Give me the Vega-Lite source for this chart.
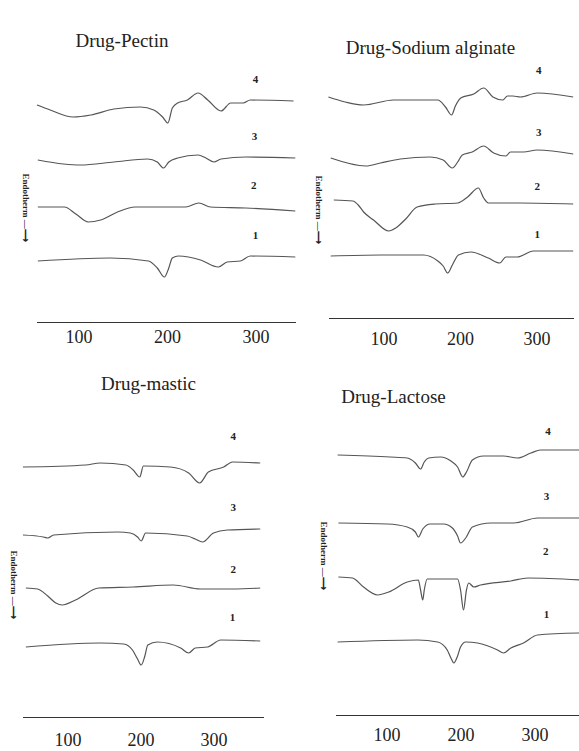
{
"$schema": "https://vega.github.io/schema/vega-lite/v6.json",
"background": "white",
"padding": {"left": 8.5, "top": 32, "right": 0, "bottom": 2},
"columns": 2,
"spacing": {"column": 33, "row": 93},
"bounds": "flush",
"datasets": {
"dsc": [
{"panel":"TL","curve":4,"temp":53,"flow":21.7},{"panel":"TL","curve":4,"temp":68,"flow":21.2},{"panel":"TL","curve":4,"temp":94,"flow":20.5},{"panel":"TL","curve":4,"temp":114,"flow":20.7},{"panel":"TL","curve":4,"temp":140,"flow":21.3},{"panel":"TL","curve":4,"temp":170,"flow":21.5},{"panel":"TL","curve":4,"temp":185,"flow":21.2},{"panel":"TL","curve":4,"temp":195,"flow":20.5},{"panel":"TL","curve":4,"temp":201,"flow":19.9},{"panel":"TL","curve":4,"temp":206,"flow":21.4},{"panel":"TL","curve":4,"temp":212,"flow":21.9},{"panel":"TL","curve":4,"temp":223,"flow":22.2},{"panel":"TL","curve":4,"temp":235,"flow":22.9},{"panel":"TL","curve":4,"temp":246,"flow":22.2},{"panel":"TL","curve":4,"temp":261,"flow":21.1},{"panel":"TL","curve":4,"temp":272,"flow":21.9},{"panel":"TL","curve":4,"temp":286,"flow":21.9},{"panel":"TL","curve":4,"temp":294,"flow":22.2},{"panel":"TL","curve":4,"temp":343,"flow":22.1},
{"panel":"TL","curve":3,"temp":54,"flow":16.2},{"panel":"TL","curve":3,"temp":83,"flow":15.8},{"panel":"TL","curve":3,"temp":102,"flow":15.7},{"panel":"TL","curve":3,"temp":140,"flow":16.0},{"panel":"TL","curve":3,"temp":178,"flow":16.3},{"panel":"TL","curve":3,"temp":189,"flow":16.0},{"panel":"TL","curve":3,"temp":196,"flow":15.4},{"panel":"TL","curve":3,"temp":202,"flow":16.0},{"panel":"TL","curve":3,"temp":212,"flow":16.4},{"panel":"TL","curve":3,"temp":235,"flow":16.7},{"panel":"TL","curve":3,"temp":244,"flow":16.4},{"panel":"TL","curve":3,"temp":253,"flow":16.0},{"panel":"TL","curve":3,"temp":261,"flow":16.3},{"panel":"TL","curve":3,"temp":289,"flow":16.5},{"panel":"TL","curve":3,"temp":345,"flow":16.4},
{"panel":"TL","curve":2,"temp":54,"flow":11.5},{"panel":"TL","curve":2,"temp":84,"flow":11.5},{"panel":"TL","curve":2,"temp":97,"flow":10.8},{"panel":"TL","curve":2,"temp":111,"flow":10.0},{"panel":"TL","curve":2,"temp":125,"flow":10.2},{"panel":"TL","curve":2,"temp":144,"flow":11.0},{"panel":"TL","curve":2,"temp":164,"flow":11.5},{"panel":"TL","curve":2,"temp":221,"flow":11.5},{"panel":"TL","curve":2,"temp":236,"flow":11.9},{"panel":"TL","curve":2,"temp":249,"flow":11.5},{"panel":"TL","curve":2,"temp":289,"flow":11.4},{"panel":"TL","curve":2,"temp":345,"flow":11.1},
{"panel":"TL","curve":1,"temp":54,"flow":6.1},{"panel":"TL","curve":1,"temp":136,"flow":6.4},{"panel":"TL","curve":1,"temp":179,"flow":6.1},{"panel":"TL","curve":1,"temp":189,"flow":5.4},{"panel":"TL","curve":1,"temp":197,"flow":4.5},{"panel":"TL","curve":1,"temp":202,"flow":5.4},{"panel":"TL","curve":1,"temp":206,"flow":6.4},{"panel":"TL","curve":1,"temp":213,"flow":6.6},{"panel":"TL","curve":1,"temp":238,"flow":6.2},{"panel":"TL","curve":1,"temp":258,"flow":5.5},{"panel":"TL","curve":1,"temp":268,"flow":6.0},{"panel":"TL","curve":1,"temp":283,"flow":6.1},{"panel":"TL","curve":1,"temp":294,"flow":6.6},{"panel":"TL","curve":1,"temp":345,"flow":6.5},
{"panel":"TR","curve":4,"temp":28,"flow":22.1},{"panel":"TR","curve":4,"temp":50,"flow":21.6},{"panel":"TR","curve":4,"temp":74,"flow":21.3},{"panel":"TR","curve":4,"temp":113,"flow":21.8},{"panel":"TR","curve":4,"temp":171,"flow":21.8},{"panel":"TR","curve":4,"temp":181,"flow":21.1},{"panel":"TR","curve":4,"temp":189,"flow":20.3},{"panel":"TR","curve":4,"temp":194,"flow":21.2},{"panel":"TR","curve":4,"temp":201,"flow":22.0},{"panel":"TR","curve":4,"temp":218,"flow":22.4},{"panel":"TR","curve":4,"temp":231,"flow":23.0},{"panel":"TR","curve":4,"temp":243,"flow":22.1},{"panel":"TR","curve":4,"temp":256,"flow":21.8},{"panel":"TR","curve":4,"temp":262,"flow":22.2},{"panel":"TR","curve":4,"temp":269,"flow":22.2},{"panel":"TR","curve":4,"temp":279,"flow":22.1},{"panel":"TR","curve":4,"temp":301,"flow":22.5},{"panel":"TR","curve":4,"temp":348,"flow":22.1},
{"panel":"TR","curve":3,"temp":31,"flow":16.0},{"panel":"TR","curve":3,"temp":77,"flow":15.2},{"panel":"TR","curve":3,"temp":96,"flow":15.5},{"panel":"TR","curve":3,"temp":122,"flow":15.9},{"panel":"TR","curve":3,"temp":161,"flow":16.1},{"panel":"TR","curve":3,"temp":178,"flow":15.8},{"panel":"TR","curve":3,"temp":190,"flow":15.0},{"panel":"TR","curve":3,"temp":197,"flow":15.6},{"panel":"TR","curve":3,"temp":203,"flow":16.3},{"panel":"TR","curve":3,"temp":216,"flow":16.6},{"panel":"TR","curve":3,"temp":231,"flow":17.2},{"panel":"TR","curve":3,"temp":244,"flow":16.5},{"panel":"TR","curve":3,"temp":260,"flow":16.2},{"panel":"TR","curve":3,"temp":266,"flow":16.6},{"panel":"TR","curve":3,"temp":283,"flow":16.6},{"panel":"TR","curve":3,"temp":301,"flow":16.8},{"panel":"TR","curve":3,"temp":348,"flow":16.4},
{"panel":"TR","curve":2,"temp":35,"flow":11.8},{"panel":"TR","curve":2,"temp":60,"flow":11.7},{"panel":"TR","curve":2,"temp":67,"flow":11.3},{"panel":"TR","curve":2,"temp":74,"flow":10.6},{"panel":"TR","curve":2,"temp":87,"flow":9.8},{"panel":"TR","curve":2,"temp":107,"flow":8.7},{"panel":"TR","curve":2,"temp":116,"flow":9.0},{"panel":"TR","curve":2,"temp":129,"flow":9.9},{"panel":"TR","curve":2,"temp":144,"flow":11.1},{"panel":"TR","curve":2,"temp":168,"flow":11.4},{"panel":"TR","curve":2,"temp":197,"flow":11.5},{"panel":"TR","curve":2,"temp":210,"flow":12.1},{"panel":"TR","curve":2,"temp":224,"flow":13.0},{"panel":"TR","curve":2,"temp":231,"flow":12.0},{"panel":"TR","curve":2,"temp":237,"flow":11.5},{"panel":"TR","curve":2,"temp":279,"flow":11.5},{"panel":"TR","curve":2,"temp":348,"flow":11.4},
{"panel":"TR","curve":1,"temp":31,"flow":6.2},{"panel":"TR","curve":1,"temp":96,"flow":6.3},{"panel":"TR","curve":1,"temp":152,"flow":6.3},{"panel":"TR","curve":1,"temp":171,"flow":5.7},{"panel":"TR","curve":1,"temp":178,"flow":5.2},{"panel":"TR","curve":1,"temp":184,"flow":4.5},{"panel":"TR","curve":1,"temp":190,"flow":5.3},{"panel":"TR","curve":1,"temp":198,"flow":6.3},{"panel":"TR","curve":1,"temp":214,"flow":6.6},{"panel":"TR","curve":1,"temp":237,"flow":6.0},{"panel":"TR","curve":1,"temp":252,"flow":5.5},{"panel":"TR","curve":1,"temp":260,"flow":6.1},{"panel":"TR","curve":1,"temp":275,"flow":6.1},{"panel":"TR","curve":1,"temp":296,"flow":6.7},{"panel":"TR","curve":1,"temp":348,"flow":6.7},
{"panel":"BL","curve":4,"temp":39,"flow":25.0},{"panel":"BL","curve":4,"temp":125,"flow":25.2},{"panel":"BL","curve":4,"temp":145,"flow":25.4},{"panel":"BL","curve":4,"temp":180,"flow":25.2},{"panel":"BL","curve":4,"temp":190,"flow":24.7},{"panel":"BL","curve":4,"temp":199,"flow":24.0},{"panel":"BL","curve":4,"temp":204,"flow":25.1},{"panel":"BL","curve":4,"temp":241,"flow":25.0},{"panel":"BL","curve":4,"temp":266,"flow":24.4},{"panel":"BL","curve":4,"temp":281,"flow":23.4},{"panel":"BL","curve":4,"temp":293,"flow":24.5},{"panel":"BL","curve":4,"temp":314,"flow":25.0},{"panel":"BL","curve":4,"temp":326,"flow":25.5},{"panel":"BL","curve":4,"temp":364,"flow":25.4},
{"panel":"BL","curve":3,"temp":39,"flow":18.2},{"panel":"BL","curve":3,"temp":67,"flow":18.0},{"panel":"BL","curve":3,"temp":73,"flow":17.9},{"panel":"BL","curve":3,"temp":81,"flow":18.2},{"panel":"BL","curve":3,"temp":169,"flow":18.5},{"panel":"BL","curve":3,"temp":186,"flow":18.4},{"panel":"BL","curve":3,"temp":196,"flow":18.0},{"panel":"BL","curve":3,"temp":201,"flow":17.6},{"panel":"BL","curve":3,"temp":207,"flow":18.4},{"panel":"BL","curve":3,"temp":264,"flow":18.1},{"panel":"BL","curve":3,"temp":275,"flow":17.8},{"panel":"BL","curve":3,"temp":285,"flow":17.5},{"panel":"BL","curve":3,"temp":300,"flow":18.4},{"panel":"BL","curve":3,"temp":319,"flow":18.7},{"panel":"BL","curve":3,"temp":364,"flow":18.8},
{"panel":"BL","curve":2,"temp":43,"flow":12.9},{"panel":"BL","curve":2,"temp":59,"flow":12.8},{"panel":"BL","curve":2,"temp":73,"flow":12.1},{"panel":"BL","curve":2,"temp":84,"flow":11.4},{"panel":"BL","curve":2,"temp":93,"flow":11.2},{"panel":"BL","curve":2,"temp":111,"flow":11.7},{"panel":"BL","curve":2,"temp":143,"flow":12.9},{"panel":"BL","curve":2,"temp":190,"flow":13.0},{"panel":"BL","curve":2,"temp":245,"flow":13.2},{"panel":"BL","curve":2,"temp":282,"flow":12.8},{"panel":"BL","curve":2,"temp":327,"flow":12.8},{"panel":"BL","curve":2,"temp":364,"flow":12.9},
{"panel":"BL","curve":1,"temp":43,"flow":7.0},{"panel":"BL","curve":1,"temp":145,"flow":7.4},{"panel":"BL","curve":1,"temp":177,"flow":7.3},{"panel":"BL","curve":1,"temp":189,"flow":6.7},{"panel":"BL","curve":1,"temp":196,"flow":5.8},{"panel":"BL","curve":1,"temp":201,"flow":5.2},{"panel":"BL","curve":1,"temp":206,"flow":6.1},{"panel":"BL","curve":1,"temp":210,"flow":7.2},{"panel":"BL","curve":1,"temp":223,"flow":7.5},{"panel":"BL","curve":1,"temp":255,"flow":6.9},{"panel":"BL","curve":1,"temp":266,"flow":6.4},{"panel":"BL","curve":1,"temp":275,"flow":6.9},{"panel":"BL","curve":1,"temp":292,"flow":7.0},{"panel":"BL","curve":1,"temp":310,"flow":7.7},{"panel":"BL","curve":1,"temp":364,"flow":7.6},
{"panel":"BR","curve":4,"temp":34,"flow":26.0},{"panel":"BR","curve":4,"temp":105,"flow":25.8},{"panel":"BR","curve":4,"temp":128,"flow":25.7},{"panel":"BR","curve":4,"temp":139,"flow":25.2},{"panel":"BR","curve":4,"temp":146,"flow":24.6},{"panel":"BR","curve":4,"temp":151,"flow":25.3},{"panel":"BR","curve":4,"temp":157,"flow":25.7},{"panel":"BR","curve":4,"temp":173,"flow":25.8},{"panel":"BR","curve":4,"temp":187,"flow":25.4},{"panel":"BR","curve":4,"temp":196,"flow":24.8},{"panel":"BR","curve":4,"temp":203,"flow":23.8},{"panel":"BR","curve":4,"temp":208,"flow":24.3},{"panel":"BR","curve":4,"temp":216,"flow":25.5},{"panel":"BR","curve":4,"temp":231,"flow":25.9},{"panel":"BR","curve":4,"temp":258,"flow":25.9},{"panel":"BR","curve":4,"temp":277,"flow":25.7},{"panel":"BR","curve":4,"temp":295,"flow":26.2},{"panel":"BR","curve":4,"temp":308,"flow":26.5},{"panel":"BR","curve":4,"temp":361,"flow":26.5},
{"panel":"BR","curve":3,"temp":35,"flow":19.2},{"panel":"BR","curve":3,"temp":101,"flow":19.1},{"panel":"BR","curve":3,"temp":128,"flow":18.8},{"panel":"BR","curve":3,"temp":139,"flow":18.3},{"panel":"BR","curve":3,"temp":143,"flow":17.8},{"panel":"BR","curve":3,"temp":149,"flow":18.6},{"panel":"BR","curve":3,"temp":159,"flow":19.1},{"panel":"BR","curve":3,"temp":177,"flow":19.1},{"panel":"BR","curve":3,"temp":189,"flow":18.7},{"panel":"BR","curve":3,"temp":196,"flow":17.9},{"panel":"BR","curve":3,"temp":200,"flow":17.2},{"panel":"BR","curve":3,"temp":207,"flow":17.7},{"panel":"BR","curve":3,"temp":216,"flow":18.8},{"panel":"BR","curve":3,"temp":241,"flow":19.2},{"panel":"BR","curve":3,"temp":272,"flow":19.2},{"panel":"BR","curve":3,"temp":304,"flow":19.7},{"panel":"BR","curve":3,"temp":361,"flow":19.7},
{"panel":"BR","curve":2,"temp":35,"flow":13.8},{"panel":"BR","curve":2,"temp":54,"flow":13.7},{"panel":"BR","curve":2,"temp":69,"flow":12.8},{"panel":"BR","curve":2,"temp":88,"flow":12.0},{"panel":"BR","curve":2,"temp":103,"flow":12.3},{"panel":"BR","curve":2,"temp":128,"flow":13.3},{"panel":"BR","curve":2,"temp":143,"flow":13.5},{"panel":"BR","curve":2,"temp":146,"flow":12.5},{"panel":"BR","curve":2,"temp":149,"flow":11.5},{"panel":"BR","curve":2,"temp":151,"flow":12.5},{"panel":"BR","curve":2,"temp":155,"flow":13.6},{"panel":"BR","curve":2,"temp":196,"flow":13.6},{"panel":"BR","curve":2,"temp":200,"flow":12.5},{"panel":"BR","curve":2,"temp":204,"flow":10.5},{"panel":"BR","curve":2,"temp":208,"flow":12.5},{"panel":"BR","curve":2,"temp":211,"flow":13.2},{"panel":"BR","curve":2,"temp":218,"flow":12.8},{"panel":"BR","curve":2,"temp":227,"flow":13.0},{"panel":"BR","curve":2,"temp":268,"flow":13.4},{"panel":"BR","curve":2,"temp":291,"flow":13.7},{"panel":"BR","curve":2,"temp":361,"flow":13.5},
{"panel":"BR","curve":1,"temp":34,"flow":7.3},{"panel":"BR","curve":1,"temp":142,"flow":7.5},{"panel":"BR","curve":1,"temp":169,"flow":7.3},{"panel":"BR","curve":1,"temp":182,"flow":6.5},{"panel":"BR","curve":1,"temp":187,"flow":5.7},{"panel":"BR","curve":1,"temp":191,"flow":5.2},{"panel":"BR","curve":1,"temp":196,"flow":5.9},{"panel":"BR","curve":1,"temp":200,"flow":6.8},{"panel":"BR","curve":1,"temp":207,"flow":7.3},{"panel":"BR","curve":1,"temp":223,"flow":7.2},{"panel":"BR","curve":1,"temp":250,"flow":6.5},{"panel":"BR","curve":1,"temp":258,"flow":6.2},{"panel":"BR","curve":1,"temp":268,"flow":6.7},{"panel":"BR","curve":1,"temp":285,"flow":7.2},{"panel":"BR","curve":1,"temp":304,"flow":8.0},{"panel":"BR","curve":1,"temp":361,"flow":8.2}
],
"labels": [
{"panel":"TL","curve":4,"temp":300,"flow":24.2},{"panel":"TL","curve":3,"temp":299,"flow":18.5},{"panel":"TL","curve":2,"temp":298,"flow":13.6},{"panel":"TL","curve":1,"temp":300,"flow":8.6},
{"panel":"TR","curve":4,"temp":303,"flow":24.7},{"panel":"TR","curve":3,"temp":303,"flow":18.5},{"panel":"TR","curve":2,"temp":301,"flow":13.1},{"panel":"TR","curve":1,"temp":301,"flow":8.3},
{"panel":"BL","curve":4,"temp":327,"flow":28.0},{"panel":"BL","curve":3,"temp":327,"flow":20.9},{"panel":"BL","curve":2,"temp":327,"flow":14.7},{"panel":"BL","curve":1,"temp":326,"flow":9.9},
{"panel":"BR","curve":4,"temp":318,"flow":28.3},{"panel":"BR","curve":3,"temp":316,"flow":21.8},{"panel":"BR","curve":2,"temp":315,"flow":16.3},{"panel":"BR","curve":1,"temp":316,"flow":10.0}
]
},
"concat": [
{
"width": 273, "height": 262,
"title": {"text": "Drug-Pectin", "dx": -37, "offset": 9},
"encoding": {
"x": {"field": "temp", "type": "quantitative", "scale": {"domain": [52.5, 345.2], "range": [14, 273], "nice": false, "zero": false}, "axis": {"title": null, "values": [100, 200, 300], "labelPadding": 6}},
"y": {"field": "flow", "type": "quantitative", "scale": {"domain": [0, 26.2], "nice": false, "zero": false}, "axis": {"title": "Endotherm —⟶", "titleX": 3, "titleY": 147}}
},
"layer": [
{"data": {"name": "dsc"}, "transform": [{"filter": "datum.panel === 'TL'"}], "mark": {"type": "line", "interpolate": "monotone", "color": "#555", "strokeWidth": 1.2}, "encoding": {"detail": {"field": "curve"}}},
{"data": {"name": "labels"}, "transform": [{"filter": "datum.panel === 'TL'"}], "mark": {"type": "text", "font": "Liberation Serif", "fontWeight": "bold", "fontSize": 11, "color": "#222"}, "encoding": {"text": {"field": "curve"}}}
]
},
{
"width": 251, "height": 258,
"title": {"text": "Drug-Sodium alginate", "dx": -23.5, "offset": 2.5},
"encoding": {
"x": {"field": "temp", "type": "quantitative", "scale": {"domain": [28.1, 348.4], "range": [0, 245], "nice": false, "zero": false}, "axis": {"title": null, "values": [100, 200, 300], "labelPadding": 12}},
"y": {"field": "flow", "type": "quantitative", "scale": {"domain": [0, 25.8], "nice": false, "zero": false}, "axis": {"title": "Endotherm —⟶", "titleX": -10, "titleY": 149}}
},
"layer": [
{"data": {"name": "dsc"}, "transform": [{"filter": "datum.panel === 'TR'"}], "mark": {"type": "line", "interpolate": "monotone", "color": "#555", "strokeWidth": 1.2}, "encoding": {"detail": {"field": "curve"}}},
{"data": {"name": "labels"}, "transform": [{"filter": "datum.panel === 'TR'"}], "mark": {"type": "text", "font": "Liberation Serif", "fontWeight": "bold", "fontSize": 11, "color": "#222"}, "encoding": {"text": {"field": "curve"}}}
]
},
{
"width": 273, "height": 302,
"title": {"text": "Drug-mastic", "dx": -10.5, "offset": 21},
"encoding": {
"x": {"field": "temp", "type": "quantitative", "scale": {"domain": [38.4, 368.5], "range": [0, 241], "nice": false, "zero": false}, "axis": {"title": null, "values": [100, 200, 300], "labelPadding": 14}},
"y": {"field": "flow", "type": "quantitative", "scale": {"domain": [0, 30.2], "nice": false, "zero": false}, "axis": {"title": "Endotherm —⟶", "titleX": -9, "titleY": 169}}
},
"layer": [
{"data": {"name": "dsc"}, "transform": [{"filter": "datum.panel === 'BL'"}], "mark": {"type": "line", "interpolate": "monotone", "color": "#555", "strokeWidth": 1.2}, "encoding": {"detail": {"field": "curve"}}},
{"data": {"name": "labels"}, "transform": [{"filter": "datum.panel === 'BL'"}], "mark": {"type": "text", "font": "Liberation Serif", "fontWeight": "bold", "fontSize": 11, "color": "#222"}, "encoding": {"text": {"field": "curve"}}}
]
},
{
"width": 251, "height": 300,
"title": {"text": "Drug-Lactose", "dx": -60.5, "offset": 8.5},
"encoding": {
"x": {"field": "temp", "type": "quantitative", "scale": {"domain": [31.1, 360.7], "range": [7, 251], "nice": false, "zero": false}, "axis": {"title": null, "values": [100, 200, 300], "labelPadding": 11}},
"y": {"field": "flow", "type": "quantitative", "scale": {"domain": [0, 30], "nice": false, "zero": false}, "axis": {"title": "Endotherm —⟶", "titleX": -5, "titleY": 140}}
},
"layer": [
{"data": {"name": "dsc"}, "transform": [{"filter": "datum.panel === 'BR'"}], "mark": {"type": "line", "interpolate": "monotone", "color": "#555", "strokeWidth": 1.2}, "encoding": {"detail": {"field": "curve"}}},
{"data": {"name": "labels"}, "transform": [{"filter": "datum.panel === 'BR'"}], "mark": {"type": "text", "font": "Liberation Serif", "fontWeight": "bold", "fontSize": 11, "color": "#222"}, "encoding": {"text": {"field": "curve"}}}
]
}
],
"config": {
"view": {"stroke": null},
"font": "Liberation Serif",
"title": {"font": "Liberation Serif", "fontSize": 19, "fontWeight": "normal", "color": "#222", "baseline": "alphabetic", "anchor": "middle"},
"axisX": {"domainColor": "#333", "domainWidth": 1.2, "ticks": false, "grid": false, "labelFont": "Liberation Serif", "labelFontSize": 18, "labelColor": "#222"},
"axisY": {"domain": false, "ticks": false, "labels": false, "grid": false, "titleFont": "Liberation Serif", "titleFontWeight": "bold", "titleFontSize": 9, "titleColor": "#222", "titleAngle": 90, "titleAlign": "center", "titleBaseline": "middle"}
}
}
